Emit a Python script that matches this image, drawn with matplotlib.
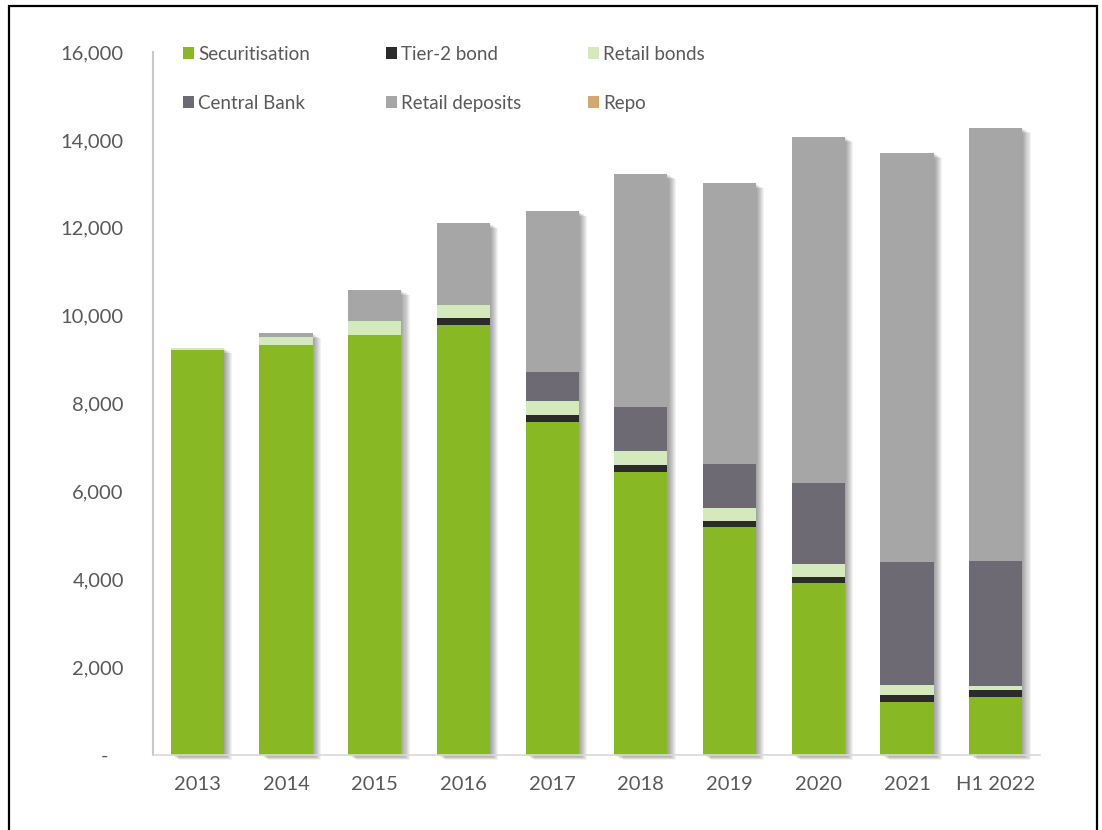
import numpy as np
import matplotlib.pyplot as plt
from matplotlib import patheffects as pe
from matplotlib.patches import Rectangle
from matplotlib.ticker import FuncFormatter

plt.rcParams['font.family'] = ['Lato', 'DejaVu Sans']

# funding mix by year (GBP m)
years = ['2013', '2014', '2015', '2016', '2017', '2018', '2019', '2020', '2021', 'H1 2022']
securitisation = [9210, 9330, 9570, 9780, 7580, 6450, 5180, 3910, 1200, 1320]
tier2_bond = [0, 0, 0, 175, 152, 152, 144, 150, 168, 152]
retail_bonds = [50, 190, 310, 280, 318, 326, 303, 282, 228, 98]
central_bank = [0, 0, 0, 0, 667, 987, 987, 1843, 2806, 2837]
retail_deposits = [0, 75, 700, 1866, 3656, 5308, 6394, 7880, 9300, 9868]
repo = [0, 0, 0, 0, 0, 0, 0, 0, 0, 0]

series = [
    ('Securitisation', securitisation, '#88b925'),
    ('Tier-2 bond', tier2_bond, '#2b2b2b'),
    ('Retail bonds', retail_bonds, '#d4eabd'),
    ('Central Bank', central_bank, '#6e6a74'),
    ('Retail deposits', retail_deposits, '#a6a6a6'),
    ('Repo', repo, '#d2a870'),
]

text_col = '#595959'
W, H = 1102, 830
x = np.arange(len(years))
width = 0.6

fig = plt.figure(figsize=(W / 100, H / 100), dpi=100)
ax = fig.add_axes([153 / W, 1 - 755 / H, (1040 - 153) / W, (755 - 52) / H])

# soft drop shadow behind each full stack
totals = np.sum([s[1] for s in series], axis=0)
shadow_fx = [pe.SimplePatchShadow(offset=(0.75 * k, -0.45 * k), shadow_rgbFace='black', alpha=0.05)
             for k in range(1, 9)]
ax.bar(x, totals, width, color='white', path_effects=shadow_fx, zorder=1, clip_on=False)

bottom = np.zeros(len(years))
for name, vals, col in series:
    ax.bar(x, vals, width, bottom=bottom, color=col, zorder=2, label=name)
    bottom += np.array(vals)

ax.set_xlim(-0.5, len(years) - 0.5)
ax.set_ylim(0, 16000)
ax.set_yticks(np.arange(0, 16001, 2000))
ax.yaxis.set_major_formatter(FuncFormatter(lambda v, p: '-   ' if v == 0 else f'{v:,.0f}'))
ax.set_xticks(x)
ax.set_xticklabels(years)
ax.tick_params(axis='y', length=0, pad=21, labelsize=14.5, labelcolor=text_col)
ax.tick_params(axis='x', length=0, pad=15, labelsize=14.5, labelcolor=text_col)

for side in ['top', 'right']:
    ax.spines[side].set_visible(False)
ax.spines['left'].set_color('#c8c8c8')
ax.spines['bottom'].set_color('#d9d9d9')
ax.spines['left'].set_linewidth(1.5)
ax.spines['bottom'].set_linewidth(1.2)
ax.spines['left'].set_zorder(3)
ax.spines['bottom'].set_zorder(3)

# legend laid out by hand: 3 columns x 2 rows
col_x = [183, 386, 588]
row_y = [53, 102]
for i, (name, vals, col) in enumerate(series):
    cx = col_x[i % 3]
    cy = row_y[i // 3]
    fig.add_artist(Rectangle((cx / W, 1 - (cy + 6) / H), 11 / W, 12 / H,
                             transform=fig.transFigure, facecolor=col, edgecolor='none'))
    fig.text((cx + 15) / W, 1 - cy / H, name, ha='left', va='center_baseline',
             fontsize=13.5, color=text_col)

# black frame round the figure
fig.add_artist(Rectangle((9 / W, -0.05), (1097 - 9) / W, 1.05 - 6 / H,
                         transform=fig.transFigure, fill=False, edgecolor='black',
                         linewidth=1.6, zorder=10))

plt.savefig('out.png', dpi=100)
